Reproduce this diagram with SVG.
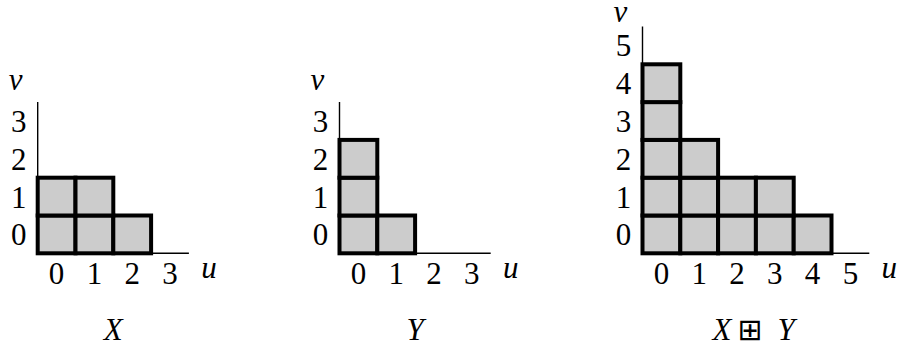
<svg xmlns="http://www.w3.org/2000/svg" width="899" height="352" viewBox="0 0 899 352">
<style>
.cell{fill:#cccccc;stroke:#000;stroke-width:4;stroke-linejoin:miter}
.axis{stroke:#000;stroke-width:1.4;fill:none}
text{font-family:"Liberation Serif","Times New Roman",Tinos,"DejaVu Serif","Noto Serif",FreeSerif,serif;font-size:31px;text-anchor:middle;fill:#000}
.it{font-style:italic}
.op{font-family:"DejaVu Sans","Noto Sans Math",sans-serif;font-size:30px;font-style:normal}
</style>
<rect width="899" height="352" fill="#fff"/>
<g id="diagram-X">
<g id="axes-X">
<path class="axis" d="M37.7 253.3V102.1M37.7 253.3H188.9"/>
</g>
<g id="cells-X">
<rect class="cell" x="37.7" y="215.5" width="37.8" height="37.8"/>
<rect class="cell" x="75.5" y="215.5" width="37.8" height="37.8"/>
<rect class="cell" x="113.3" y="215.5" width="37.8" height="37.8"/>
<rect class="cell" x="37.7" y="177.7" width="37.8" height="37.8"/>
<rect class="cell" x="75.5" y="177.7" width="37.8" height="37.8"/>
</g>
<g id="labels-X">
<text class="it" x="15.7" y="90">v</text>
<text x="18.7" y="245.4">0</text>
<text x="18.7" y="207.6">1</text>
<text x="18.7" y="169.8">2</text>
<text x="18.7" y="132">3</text>
<text x="56.6" y="284">0</text>
<text x="94.4" y="284">1</text>
<text x="132.2" y="284">2</text>
<text x="170" y="284">3</text>
<text class="it" x="208.9" y="278">u</text>
<text class="it" x="113.3" y="340">X</text>
</g>
</g>
<g id="diagram-Y">
<g id="axes-Y">
<path class="axis" d="M339.5 253.3V102.1M339.5 253.3H490.7"/>
</g>
<g id="cells-Y">
<rect class="cell" x="339.5" y="215.5" width="37.8" height="37.8"/>
<rect class="cell" x="377.3" y="215.5" width="37.8" height="37.8"/>
<rect class="cell" x="339.5" y="177.7" width="37.8" height="37.8"/>
<rect class="cell" x="339.5" y="139.9" width="37.8" height="37.8"/>
</g>
<g id="labels-Y">
<text class="it" x="317.5" y="90">v</text>
<text x="320.5" y="245.4">0</text>
<text x="320.5" y="207.6">1</text>
<text x="320.5" y="169.8">2</text>
<text x="320.5" y="132">3</text>
<text x="358.4" y="284">0</text>
<text x="396.2" y="284">1</text>
<text x="434" y="284">2</text>
<text x="471.8" y="284">3</text>
<text class="it" x="510.7" y="278">u</text>
<text class="it" x="415.1" y="340">Y</text>
</g>
</g>
<g id="diagram-XY">
<g id="axes-XY">
<path class="axis" d="M642.5 253.3V26.5M642.5 253.3H869.3"/>
</g>
<g id="cells-XY">
<rect class="cell" x="642.5" y="215.5" width="37.8" height="37.8"/>
<rect class="cell" x="680.3" y="215.5" width="37.8" height="37.8"/>
<rect class="cell" x="718.1" y="215.5" width="37.8" height="37.8"/>
<rect class="cell" x="755.9" y="215.5" width="37.8" height="37.8"/>
<rect class="cell" x="793.7" y="215.5" width="37.8" height="37.8"/>
<rect class="cell" x="642.5" y="177.7" width="37.8" height="37.8"/>
<rect class="cell" x="680.3" y="177.7" width="37.8" height="37.8"/>
<rect class="cell" x="718.1" y="177.7" width="37.8" height="37.8"/>
<rect class="cell" x="755.9" y="177.7" width="37.8" height="37.8"/>
<rect class="cell" x="642.5" y="139.9" width="37.8" height="37.8"/>
<rect class="cell" x="680.3" y="139.9" width="37.8" height="37.8"/>
<rect class="cell" x="642.5" y="102.1" width="37.8" height="37.8"/>
<rect class="cell" x="642.5" y="64.3" width="37.8" height="37.8"/>
</g>
<g id="labels-XY">
<text class="it" x="620.5" y="22">v</text>
<text x="623.5" y="245.4">0</text>
<text x="623.5" y="207.6">1</text>
<text x="623.5" y="169.8">2</text>
<text x="623.5" y="132">3</text>
<text x="623.5" y="94.2">4</text>
<text x="623.5" y="56.4">5</text>
<text x="661.4" y="284">0</text>
<text x="699.2" y="284">1</text>
<text x="737" y="284">2</text>
<text x="774.8" y="284">3</text>
<text x="812.6" y="284">4</text>
<text x="850.4" y="284">5</text>
<text class="it" x="889.3" y="278">u</text>
<text class="it" x="722" y="340">X</text>
<text class="op" x="750" y="340">⊞</text>
<text class="it" x="786" y="340">Y</text>
</g>
</g>
</svg>
